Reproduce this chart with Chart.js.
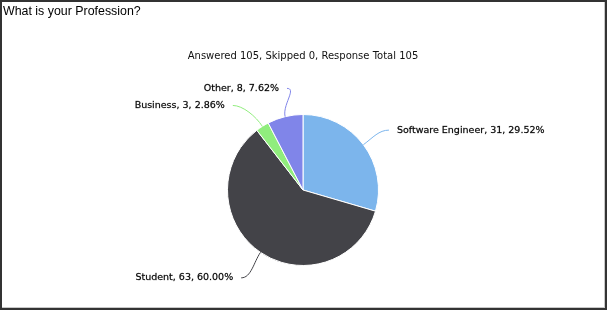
<!DOCTYPE html>
<html>
<head>
<meta charset="utf-8">
<script src="https://cdn.jsdelivr.net/npm/chart.js@4.4.1/dist/chart.umd.min.js"></script>
<style>
  html, body { margin: 0; padding: 0; background: #fff; }
  #wrap { position: relative; width: 610px; height: 314px; overflow: hidden; }
  #frame {
    position: absolute; left: 0; top: 0; width: 607px; height: 310px;
    box-sizing: border-box; border: 2px solid #333;
    box-shadow: inset -1px -1px 0 #c8c8c8;
  }
  #title {
    position: absolute; left: 3px; top: 4px;
    font: 12.4px "Liberation Sans", Arial, sans-serif; color: #000;
  }
  #subtitle {
    position: absolute; left: 0; width: 606px; top: 50px; text-align: center;
    font: 10px "DejaVu Sans", sans-serif; color: #111;
  }
  canvas { position: absolute; left: 0; top: 0; }
</style>
</head>
<body>
<div id="wrap">
  <canvas id="pie" width="610" height="314"></canvas>
  <div id="frame"></div>
  <div id="title">What is your Profession?</div>
  <div id="subtitle">Answered 105, Skipped 0, Response Total 105</div>
</div>
<script>
const categories = ['Software Engineer', 'Student', 'Business', 'Other'];
const counts = [31, 63, 3, 8];
const percents = ['29.52%', '60.00%', '2.86%', '7.62%'];
const colors = ['#7cb5ec', '#434348', '#90ed7d', '#8085e9'];

// draws the Highcharts-like labels with soft connector lines
const leaderLabels = {
  id: 'leaderLabels',
  afterDatasetsDraw(chart, args, opts) {
    const ctx = chart.ctx;
    const meta = chart.getDatasetMeta(0);
    ctx.save();
    ctx.font = opts.font;
    ctx.textBaseline = 'middle';
    meta.data.forEach((arc, i) => {
      const { x, y, outerRadius, startAngle, endAngle } =
        arc.getProps(['x', 'y', 'outerRadius', 'startAngle', 'endAngle'], true);
      const mid = (startAngle + endAngle) / 2;
      const cos = Math.cos(mid), sin = Math.sin(mid);
      const ex = x + cos * outerRadius, ey = y + sin * outerRadius;
      const R = outerRadius + opts.distance;
      const dir = cos >= 0 ? 1 : -1;
      const ly = y + sin * R + opts.nudgeY[i];
      const lx = x + dir * (Math.sqrt(Math.max(R * R - (ly - y) ** 2, 0)) + opts.nudgeX[i]);

      ctx.strokeStyle = colors[i];
      ctx.lineWidth = 1;
      ctx.beginPath();
      ctx.moveTo(lx, ly);
      ctx.bezierCurveTo(lx - dir * 10, ly, ex + cos * 12, ey + sin * 12, ex, ey);
      ctx.stroke();

      // light stroke on the text to get the semi-bold look
      const text = `${categories[i]}, ${counts[i]}, ${percents[i]}`;
      const tx = lx + dir * 8;
      ctx.textAlign = dir > 0 ? 'left' : 'right';
      ctx.fillStyle = '#000';
      ctx.strokeStyle = 'rgba(0,0,0,0.6)';
      ctx.lineWidth = 0.35;
      ctx.fillText(text, tx, ly);
      ctx.strokeText(text, tx, ly);
    });
    ctx.restore();
  }
};

new Chart(document.getElementById('pie'), {
  type: 'pie',
  data: {
    labels: categories,
    datasets: [{
      data: counts,
      backgroundColor: colors,
      borderColor: '#fff',
      borderWidth: 1
    }]
  },
  options: {
    responsive: false,
    animation: false,
    layout: { padding: { top: 114, bottom: 48, left: 0, right: 4 } },
    plugins: {
      legend: { display: false },
      tooltip: { enabled: false },
      leaderLabels: {
        font: '9.5px "DejaVu Sans", sans-serif',
        distance: 26,
        nudgeX: [4, 11, 14, 16],
        nudgeY: [1, 4, 1, -3]
      }
    }
  },
  plugins: [leaderLabels]
});
</script>
</body>
</html>
